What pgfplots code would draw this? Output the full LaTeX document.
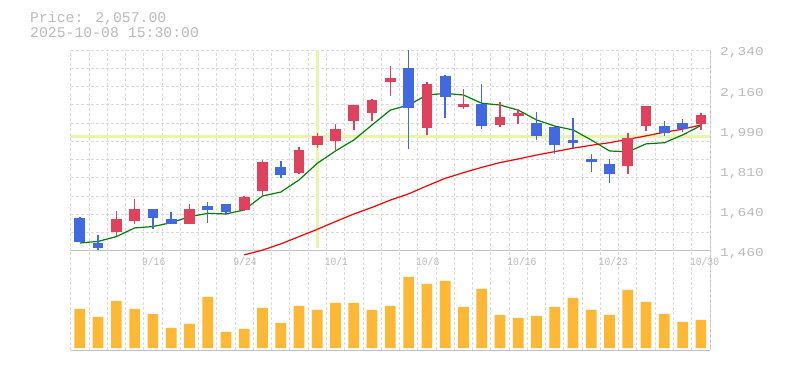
\documentclass[border=0pt]{standalone}
\usepackage{pgfplots}
\usepackage{pgfplotstable}
\pgfplotsset{compat=1.18}
\usepackage{fontspec}
\newfontfamily\titlefont{Liberation Mono}
\newfontfamily\ylabfont[FakeStretch=1.2]{Liberation Mono}
\newfontfamily\datefont[FakeStretch=0.88]{Liberation Mono}
\definecolor{upred}{RGB}{224,66,94}
\definecolor{downblue}{RGB}{65,105,225}
\definecolor{volorange}{RGB}{253,185,53}
\definecolor{crossc}{RGB}{232,245,170}
\definecolor{gridc}{RGB}{218,218,218}
\definecolor{axisc}{RGB}{192,192,192}
\definecolor{labc}{RGB}{187,187,187}
\definecolor{smagreen}{RGB}{0,128,0}
\definecolor{smared}{RGB}{255,0,0}

\pgfplotstableread{
x o h l c
2 1545 1635 1526 1600
3 1593 1688 1580 1644
6 1580 1666 1580 1644
9 1641 1701 1637 1697
10 1724 1859 1702 1850
12 1803 1915 1799 1902
13 1926 1977 1912 1964
14 1943 2016 1898 1994
15 2031 2099 1990 2099
16 2066 2126 2029 2121
17 2200 2270 2139 2217
19 1999 2200 1968 2191
21 2092 2169 2082 2104
23 2013 2112 2003 2047
24 2051 2082 2016 2064
30 1832 1977 1797 1955
31 2007 2095 1985 2095
34 2018 2064 1990 2057
}\upc

\pgfplotstableread{
x o h l c
0 1605 1609 1498 1501
1 1495 1530 1464 1475
4 1644 1644 1558 1606
5 1600 1631 1580 1580
7 1657 1675 1584 1640
8 1666 1666 1619 1631
11 1828 1854 1781 1793
18 2261 2340 1908 2088
20 2226 2231 2042 2134
22 2104 2191 1994 2007
25 2020 2069 1946 1964
26 2003 2007 1885 1924
27 1946 2042 1911 1933
28 1863 1885 1806 1850
29 1841 1863 1758 1797
32 2007 2029 1964 1977
33 2020 2038 1981 1994
}\downc

\pgfplotstableread{
x s
0 1495
1 1502
2 1523
3 1561
4 1567
5 1584
6 1610
7 1625
8 1622
9 1640
10 1701
11 1718
12 1771
13 1844
14 1898
15 1946
16 2012
17 2077
18 2099
19 2143
20 2150
21 2143
22 2107
23 2099
24 2077
25 2034
26 2007
27 1990
28 1946
29 1898
30 1894
31 1929
32 1934
33 1968
34 2009
}\smafast

\pgfplotstableread{
x s
9 1443
10 1464
11 1491
12 1523
13 1555
14 1589
15 1622
16 1651
17 1683
18 1710
19 1745
20 1778
21 1803
22 1826
23 1847
24 1863
25 1880
26 1895
27 1910
28 1923
29 1934
30 1949
31 1964
32 1980
33 1993
34 2012
}\smaslow

\pgfplotstableread{
x v
0 39
1 31
2 47
3 39
4 34
5 20
6 24
7 51
8 16
9 19
10 40
11 25
12 42
13 38
14 45
15 45
16 38
17 42
18 71
19 64
20 67
21 41
22 59
23 33
24 30
25 32
26 41
27 50
28 38
29 33
30 58
31 46
32 34
33 26
34 28
}\vol

\begin{document}
\begin{tikzpicture}
\useasboundingbox[fill=white] (0,0) rectangle (785pt,370pt);

\node[anchor=base west, inner sep=0pt, text=labc, font=\titlefont\fontsize{14.8}{16}\selectfont] at (30pt,347.3pt) {Price: 2,057.00};
\node[anchor=base west, inner sep=0pt, text=labc, font=\titlefont\fontsize{14.8}{16}\selectfont] at (30pt,332.7pt) {2025-10-08 15:30:00};

% volume panel
\begin{axis}[
  at={(70.7pt,20pt)}, anchor=south west,
  width=639.3pt, height=99pt, scale only axis,
  xmin=-0.5, xmax=34.5, ymin=-2, ymax=97,
  axis x line*=bottom, axis y line*=right,
  axis line style={draw=axisc, line width=1pt},
  xtick=\empty, ytick=\empty, major tick length=0,
  extra x ticks={-0.5,0.5,...,34.5}, extra x tick labels={},
  extra x tick style={grid=major, major grid style={draw=gridc, line width=0.9pt, dash pattern=on 3pt off 2pt}},
]
\addplot[ybar, bar width=10.7pt, fill=volorange, draw=none] table[x=x,y=v] {\vol};
\end{axis}

% price panel
\begin{axis}[
  at={(70.7pt,119pt)}, anchor=south west,
  width=639.3pt, height=201pt, scale only axis,
  xmin=-0.5, xmax=34.5, ymin=1460, ymax=2340,
  clip=false,
  axis x line*=bottom, axis y line*=right,
  axis line style={draw=axisc, line width=1pt},
  major tick length=0,
  xtick={4,9,14,19,24,29,34},
  xticklabels={9/16,9/24,10/1,10/8,10/16,10/23,10/30},
  xticklabel style={anchor=north west, inner sep=0pt, xshift=-11pt, yshift=-6pt, text=labc, font=\datefont\fontsize{11}{13}\selectfont},
  ytick={1460,1636,1812,1988,2164,2340},
  yticklabels={{1,460},{1,640},{1,810},{1,990},{2,160},{2,340}},
  yticklabel style={anchor=west, inner sep=0pt, xshift=10pt, yshift=-3pt, text=labc, font=\ylabfont\fontsize{12.1}{14}\selectfont},
  extra x ticks={-0.5,0.5,...,34.5}, extra x tick labels={},
  extra x tick style={grid=major, major grid style={draw=gridc, line width=0.9pt, dash pattern=on 3pt off 2pt}},
  extra y ticks={1540,1620,...,2340}, extra y tick labels={},
  extra y tick style={grid=major, major grid style={draw=gridc, line width=0.9pt, dash pattern=on 3pt off 2pt}},
]
% crosshair
\addplot[crossc, line width=3pt, forget plot] coordinates {(-0.5,1962) (34.5,1962)};
\addplot[crossc, line width=3pt, forget plot] coordinates {(13,1472) (13,2340)};
% moving averages
\addplot[smared, line width=1.2pt, forget plot] table[x=x,y=s] {\smaslow};
\addplot[smagreen, line width=1.2pt, forget plot] table[x=x,y=s] {\smafast};
% wicks
\addplot[draw=none, mark=none, forget plot,
  error bars/.cd, y dir=plus, y explicit, error mark=none,
  error bar style={line width=1.5pt, draw=upred}]
  table[x=x, y=l, y error plus expr=\thisrow{h}-\thisrow{l}] {\upc};
\addplot[draw=none, mark=none, forget plot,
  error bars/.cd, y dir=plus, y explicit, error mark=none,
  error bar style={line width=1.5pt, draw=downblue}]
  table[x=x, y=l, y error plus expr=\thisrow{h}-\thisrow{l}] {\downc};
% bodies
\addplot[draw=none, mark=none, forget plot,
  error bars/.cd, y dir=both, y explicit, error mark=none,
  error bar style={line width=10.7pt, draw=upred}]
  table[x=x, y expr=(\thisrow{o}+\thisrow{c})/2, y error expr=abs(\thisrow{o}-\thisrow{c})/2] {\upc};
\addplot[draw=none, mark=none, forget plot,
  error bars/.cd, y dir=both, y explicit, error mark=none,
  error bar style={line width=10.7pt, draw=downblue}]
  table[x=x, y expr=(\thisrow{o}+\thisrow{c})/2, y error expr=abs(\thisrow{o}-\thisrow{c})/2] {\downc};
\end{axis}
\end{tikzpicture}
\end{document}
